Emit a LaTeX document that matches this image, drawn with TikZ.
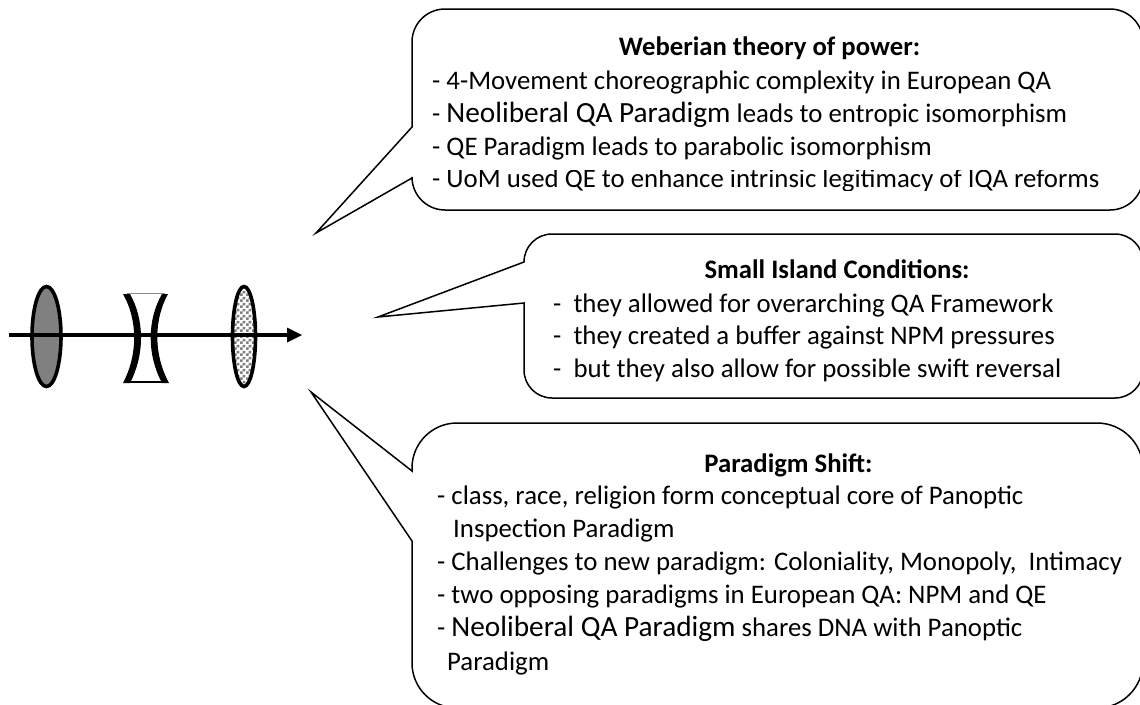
\documentclass[tikz,border=0pt]{standalone}
\usepackage{fontspec}
\setmainfont{Carlito}
\usetikzlibrary{patterns}
\pgfdeclarepatternformonly{finecheck}{\pgfpointorigin}{\pgfqpoint{6pt}{6pt}}{\pgfqpoint{6pt}{6pt}}{%
  \pgfpathrectangle{\pgfpointorigin}{\pgfqpoint{3pt}{3pt}}%
  \pgfpathrectangle{\pgfqpoint{3pt}{3pt}}{\pgfqpoint{3pt}{3pt}}%
  \pgfusepath{fill}}
\tikzset{
  bubble/.style={draw=black,line width=1.5pt,fill=white,line join=miter},
  txt/.style={anchor=base west,inner sep=0pt,font=\fontsize{26.8}{30}\selectfont},
  head/.style={anchor=base,inner sep=0pt,font=\fontsize{26.7}{30}\selectfont\bfseries},
  lensrim/.style={draw=black,line width=3.6pt},
  axisline/.style={draw=black,line width=3.8pt}
}
\newcommand{\bigt}[1]{{\fontsize{29.3}{30}\selectfont #1}}
\begin{document}
\begin{tikzpicture}[x=1pt,y=-1pt]
\useasboundingbox (0,0) rectangle (1140,704);
\clip (0,0) rectangle (1140,704);
\fill[white] (0,0) rectangle (1140,704);
% callouts
\path[bubble] (445,9) -- (1110,9) arc[start angle=-90,end angle=0,radius=33] -- (1143,177) arc[start angle=0,end angle=90,radius=33] -- (445,210) arc[start angle=90,end angle=180,radius=33] -- (412,178) -- (316,233) -- (412,127) -- (412,42) arc[start angle=180,end angle=270,radius=33] -- cycle;
\path[bubble] (552,234) -- (1115,234) arc[start angle=-90,end angle=0,radius=28] -- (1143,370) arc[start angle=0,end angle=90,radius=28] -- (552,398) arc[start angle=90,end angle=180,radius=28] -- (524,303) -- (378,317) -- (524,262) arc[start angle=180,end angle=270,radius=28] -- cycle;
\path[bubble] (457,423) -- (1097,423) arc[start angle=-90,end angle=0,radius=46] -- (1143,662) arc[start angle=0,end angle=90,radius=46] -- (457,708) arc[start angle=90,end angle=180,radius=45] -- (412,541) -- (311,392) -- (412,471) -- (412,468) arc[start angle=180,end angle=270,radius=45] -- cycle;
% lenses
\draw[lensrim,fill=black!50] (46.5,336.5) ellipse[x radius=14.5,y radius=50];
\draw[lensrim,pattern=finecheck,pattern color=black!50] (244,336.5) ellipse[x radius=11.5,y radius=50];
\draw[black!45,line width=1pt] (127,293.5) -- (165,293.5);
\draw[black,line width=1.2pt] (127,382) -- (165,382);
\fill[black] (123,294) -- (130,294) .. controls (144.7,320) and (144.7,355) .. (130,383) -- (123,383) .. controls (137.9,355) and (137.9,320) .. (123,294) -- cycle;
\fill[black] (168,294) -- (162,294) .. controls (146.9,320) and (146.9,355) .. (162,383) -- (169,383) .. controls (153.6,355) and (153.6,320) .. (168,294) -- cycle;
% axis
\coordinate (axstart) at (9,335);
\coordinate (axend) at (287,335);
\coordinate (axtip) at (302,335);
\draw[axisline] (axstart) -- (axend);
\fill[black] (287,327.5) -- (axtip) -- (287,342.5) -- cycle;
% box 1
\node[head] (h1) at (769.5,55) {Weberian theory of power:};
\node[txt] (a1) at (432,89) {- 4-Movement choreographic complexity in European QA};
\node[txt] (a2) at (432,122) {- \bigt{Neoliberal QA Paradigm} leads to entropic isomorphism};
\node[txt] (a3) at (432,155) {- QE Paradigm leads to parabolic isomorphism};
\begin{scope}
\clip (412,170) rectangle (1140,190);
\node[txt] (a4) at (432,187) {- UoM used QE to enhance intrinsic legitimacy of IQA reforms};
\end{scope}
% box 2
\node[head] (h2) at (837,278) {Small Island Conditions:};
\node[txt] (b1) at (553,312) {-\ \ they allowed for overarching QA Framework};
\node[txt] (b2) at (553,344) {-\ \ they created a buffer against NPM pressures};
\node[txt] (b3) at (553,377) {-\ \ but they also allow for possible swift reversal};
% box 3
\node[head] (h3) at (788.5,472) {Paradigm Shift:};
\node[txt] (c1) at (437,504) {- class, race, religion form conceptual core of Panoptic};
\node[txt] (c2) at (453,537) {Inspection Paradigm};
\node[txt] (c3) at (437,570) {- Challenges to new paradigm: Coloniality, Monopoly,\ \ Intimacy};
\node[txt] (c4) at (437,603) {- two opposing paradigms in European QA: NPM and QE};
\node[txt] (c5) at (437,636) {- \bigt{Neoliberal QA Paradigm} shares DNA with Panoptic};
\node[txt] (c6) at (447,670) {Paradigm};
\end{tikzpicture}
\end{document}
